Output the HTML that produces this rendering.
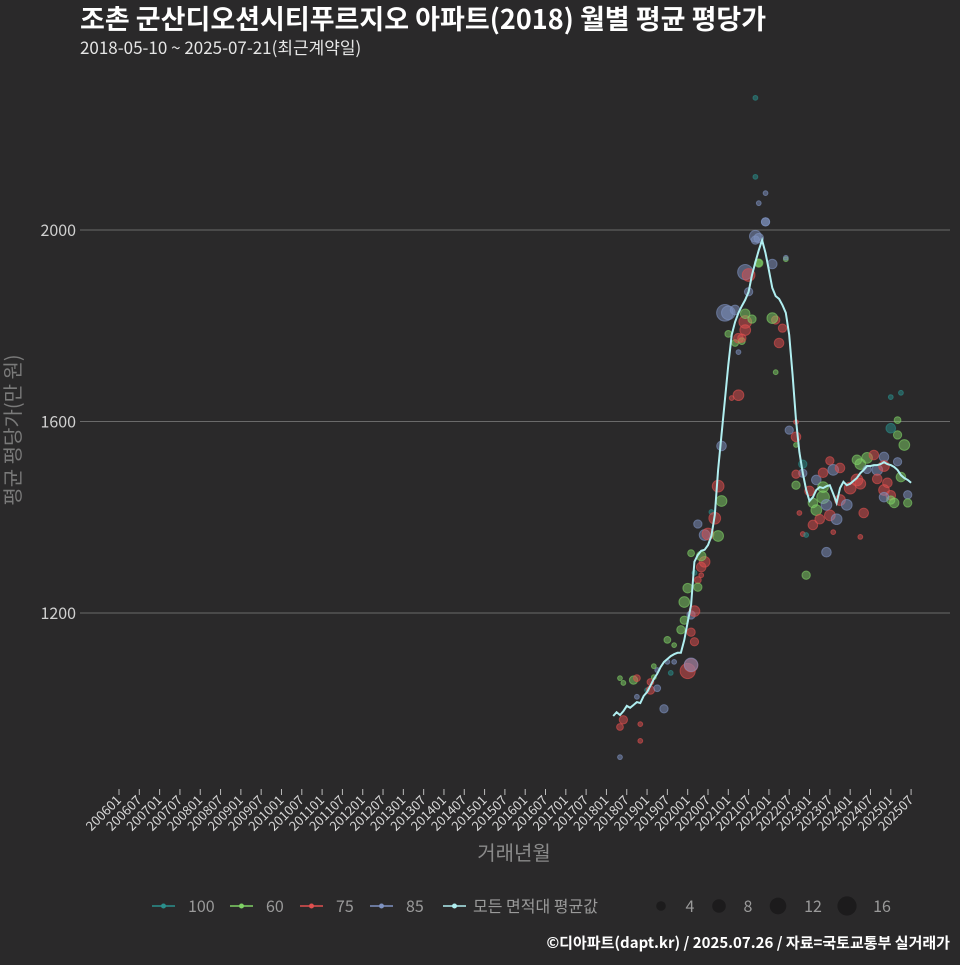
<!DOCTYPE html>
<html><head><meta charset="utf-8">
<style>
html,body{margin:0;padding:0;background:#2a292a;}
body{width:960px;height:960px;overflow:hidden;font-family:"Noto Sans CJK KR","Liberation Sans",sans-serif;}
svg text{font-family:"Noto Sans CJK KR","Liberation Sans",sans-serif;}
</style></head>
<body>
<svg id="chart" width="960" height="960" viewBox="0 0 960 960">
  <rect width="960" height="960" fill="#2a292a"/>
  <text x="80" y="29" fill="#ffffff" font-size="27" font-weight="bold">조촌 군산디오션시티푸르지오 아파트(2018) 월별 평균 평당가</text>
  <text x="80" y="54" fill="#e6e6e6" font-size="17">2018-05-10 ~ 2025-07-21(최근계약일)</text>
  <g id="grid"></g>
  <g id="yaxis"></g>
  <g id="xaxis"></g>
  <g id="points"></g>
  <g id="avgline"></g>
  <text transform="translate(20,430) rotate(-90)" text-anchor="middle" fill="#7a7a7a" font-size="20">평균 평당가(만 원)</text>
  <text x="514" y="860" text-anchor="middle" fill="#8a8a8a" font-size="20">거래년월</text>
  <g id="legend"></g>
  <text x="950" y="948" text-anchor="end" fill="#ffffff" font-size="15" font-weight="bold">©디아파트(dapt.kr) / 2025.07.26 / 자료=국토교통부 실거래가</text>
</svg>
<script>
// ---- data ----
const tickLabels = ["200601","200607","200701","200707","200801","200807","200901","200907","201001","201007","201101","201107","201201","201207","201301","201307","201401","201407","201501","201507","201601","201607","201701","201707","201801","201807","201901","201907","202001","202007","202101","202107","202201","202207","202301","202307","202401","202407","202501","202507"];
const yTicks = [1200, 1600, 2000];
const lineStart = "2018-03";
const avgValues = [985,993,987,995,1006,1002,1008,1014,1012,1027,
 1035,1048,1062,1073,1087,1098,1104,1110,1114,1117,
 1117,1144,1181,1217,1307,1321,1330,1332,1342,1361,
 1405,1499,1572,1645,1718,1781,1808,1827,1841,1854,
 1871,1906,1933,1958,1979,1952,1916,1879,1862,1856,
 1843,1827,1781,1697,1603,1536,1492,1457,1434,1442,
 1457,1463,1461,1465,1467,1449,1430,1461,1474,1467,
 1470,1476,1482,1492,1499,1507,1507,1509,1509,1511,
 1515,1511,1509,1505,1499,1488,1482,1478,1472];
const sMonths = ["2018-05","2018-06","2018-05","2018-05","2018-06","2018-09","2018-10","2018-11","2018-11","2018-10","2019-01","2019-02",
 "2019-02","2019-04","2019-06","2019-03","2019-04","2019-03","2019-08","2019-09","2019-07","2019-09","2019-07","2019-11",
 "2019-12","2020-02","2020-02","2020-01","2020-02","2019-12","2020-02","2020-01","2020-03","2020-03","2020-04","2020-03",
 "2020-04","2020-04","2020-06","2020-05","2020-02","2020-05","2020-06","2020-07","2020-05","2020-08","2020-09","2020-10",
 "2020-11","2020-10","2020-11","2021-04","2021-02","2021-03","2021-04","2021-01","2020-12","2021-03","2021-04","2021-05",
 "2021-05","2021-06","2021-06","2021-06","2021-08","2021-07","2021-01","2021-06","2021-07","2021-10","2021-10","2021-09",
 "2021-09","2021-09","2021-12","2021-12","2021-10","2021-12","2021-10","2021-09","2022-02","2022-06","2022-06","2022-03",
 "2022-02","2022-05","2022-04","2022-03","2022-09","2022-07","2022-09","2022-09","2022-11","2022-09","2022-09","2022-10",
 "2022-11","2022-12","2022-12","2022-11","2023-03","2023-01","2023-02","2023-03","2023-04","2023-02","2023-05","2023-05",
 "2023-05","2023-07","2023-06","2023-09","2023-06","2023-07","2023-08","2023-10","2023-08","2024-01","2023-12","2023-10",
 "2024-03","2024-03","2024-04","2024-05","2024-04","2024-04","2024-06","2024-08","2024-09","2024-11","2024-11","2025-01",
 "2024-11","2024-12","2025-02","2025-01","2025-04","2025-06","2025-03","2025-05","2025-03","2025-01","2025-03","2025-01",
 "2025-04","2024-11","2024-09","2024-06","2025-06"];
const sVals = [899,977,962,1064,1054,1060,1064,933,968,1025,1039,1056,
 1039,1043,1000,1066,1081,1089,1075,1133,1144,1098,1098,1165,
 1185,1160,1091,1079,1092,1223,1196,1252,1204,1140,1269,1284,
 1254,1386,1307,1296,1325,1319,1363,1365,1279,1411,1398,1361,
 1434,1465,1549,1655,1649,1764,1774,1783,1827,1833,1745,1768,
 1774,1791,1808,1825,1814,1871,1827,1912,1906,1931,1931,1987,
 1979,2111,2017,2017,1983,2077,2056,2276,1929,1939,1942,1812,
 1816,1795,1764,1703,1599,1582,1568,1551,1492,1490,1467,1409,
 1365,1279,1363,1511,1478,1455,1430,1415,1396,1384,1493,1463,
 1442,1404,1426,1396,1327,1518,1369,1436,1499,1461,1426,1503,
 1520,1478,1470,1409,1359,1511,1524,1530,1499,1526,1507,1446,
 1457,1472,1430,1436,1484,1447,1516,1551,1572,1586,1603,1651,
 1660,1442,1480,1500,1430];
const sCnts = [1,3,2,1,1,3,2,1,1,1,1,2,
 3,2,3,1,1,1,1,1,2,1,1,3,
 3,3,8,10,8,5,3,4,5,3,2,1,
 3,3,5,4,2,4,5,6,1,1,6,5,
 5,6,4,5,1,2,4,2,12,4,1,2,
 3,5,7,4,3,3,8,10,7,3,2,6,
 3,1,3,3,4,1,1,1,4,1,1,3,
 5,3,4,1,1,3,4,1,3,3,3,1,
 1,3,1,3,4,4,4,5,4,4,4,5,
 7,5,5,5,4,3,1,5,5,6,5,4,
 4,6,5,4,1,5,5,4,5,4,5,4,
 5,4,4,3,4,3,3,5,3,4,2,1,
 1,4,4,3,3];
const sTypes = ["85","75","75","60","60","60","75","75","75","85","100","75",
 "75","85","85","60","85","60","100","60","60","85","85","60",
 "60","75","75","75","85","60","85","60","75","75","75","100",
 "60","85","75","75","60","60","85","75","75","100","75","60",
 "60","75","85","75","75","60","75","60","85","85","85","60",
 "75","75","75","60","60","85","85","85","75","60","60","85",
 "85","100","85","85","85","85","85","100","85","60","85","75",
 "60","75","75","60","75","85","75","60","85","75","60","75",
 "75","60","100","100","85","75","60","60","75","75","75","60",
 "60","75","85","85","85","75","75","75","85","75","85","75",
 "60","75","75","75","75","60","60","75","85","85","75","75",
 "75","75","60","60","60","85","85","60","60","100","60","100",
 "100","85","75","85","60"];

// ---- scales ----
const X0 = 119, STEP = 20.31/6;
function monthIdx(s){ const p = s.split("-"); return (parseInt(p[0])-2006)*12 + parseInt(p[1])-1; }
function xOf(m){ return X0 + m*STEP; }
function yOf(v){ return 230 + (2000 - v)*0.4788; }
const NS = "http://www.w3.org/2000/svg";
const colors = {"100":"#2a8f8c","60":"#7fd165","75":"#e0504f","85":"#7f93c2"};

const grid = document.getElementById('grid');
const yaxis = document.getElementById('yaxis');
yTicks.forEach(v=>{
  const l = document.createElementNS(NS,'line');
  
  
  l.setAttribute('x1',80); l.setAttribute('x2',950);
  l.setAttribute('y1',yOf(v)); l.setAttribute('y2',yOf(v));
  l.setAttribute('stroke','#6a6a6a'); l.setAttribute('stroke-width','1');
  grid.appendChild(l);
  const t = document.createElementNS(NS,'text');
  
  
  t.setAttribute('x',76); t.setAttribute('y',yOf(v)+6);
  t.setAttribute('text-anchor','end'); t.setAttribute('fill','#d0d0d0'); t.setAttribute('font-size','16');
  t.textContent = v;
  yaxis.appendChild(t);
});

const xaxis = document.getElementById('xaxis');
tickLabels.forEach(lab=>{
  const m = (parseInt(lab.slice(0,4))-2006)*12 + parseInt(lab.slice(4))-1;
  const x = xOf(m);
  const l = document.createElementNS(NS,'line');
  
  
  l.setAttribute('x1',x); l.setAttribute('x2',x); l.setAttribute('y1',789); l.setAttribute('y2',795);
  l.setAttribute('stroke','#bbbbbb'); l.setAttribute('stroke-width','1');
  xaxis.appendChild(l);
  const t = document.createElementNS(NS,'text');
  
  
  t.setAttribute('transform','translate('+(x+3)+',801) rotate(-45)');
  t.setAttribute('text-anchor','end'); t.setAttribute('fill','#d8d8d8'); t.setAttribute('font-size','13');
  t.textContent = lab;
  xaxis.appendChild(t);
});

const pts = document.getElementById('points');
sMonths.forEach((mo,i)=>{
  const c = document.createElementNS(NS,'circle');
  
  
  c.setAttribute('cx',xOf(monthIdx(mo)));
  c.setAttribute('cy',yOf(sVals[i]));
  c.setAttribute('r',2.4*Math.sqrt(sCnts[i]));
  c.setAttribute('fill',colors[sTypes[i]]); c.setAttribute('fill-opacity','0.5');
  c.setAttribute('stroke',colors[sTypes[i]]); c.setAttribute('stroke-opacity','0.6');
  pts.appendChild(c);
});

const s0 = monthIdx(lineStart);
const d = avgValues.map((v,i)=>(i?'L':'M')+xOf(s0+i).toFixed(1)+','+yOf(v).toFixed(1)).join(' ');
const path = document.createElementNS(NS,'path');


path.setAttribute('d',d); path.setAttribute('fill','none');
path.setAttribute('stroke','#b0eef0'); path.setAttribute('stroke-width','2');
document.getElementById('avgline').appendChild(path);

const leg = document.getElementById('legend');
const entries = [["100","#2a8f8c"],["60","#7fd165"],["75","#e0504f"],["85","#7f93c2"],["모든 면적대 평균값","#b0eef0"]];
const ex = [152,230,300,370,443];
entries.forEach((e,i)=>{
  const g = document.createElementNS(NS,'g');
  
  
  const l = document.createElementNS(NS,'line');
  l.setAttribute('x1',ex[i]); l.setAttribute('x2',ex[i]+23); l.setAttribute('y1',906); l.setAttribute('y2',906);
  l.setAttribute('stroke',e[1]); l.setAttribute('stroke-width','1.5');
  const c = document.createElementNS(NS,'circle');
  c.setAttribute('cx',ex[i]+11.5); c.setAttribute('cy',906); c.setAttribute('r',2.5); c.setAttribute('fill',e[1]);
  const t = document.createElementNS(NS,'text');
  t.setAttribute('x',ex[i]+(i==4?30:36)); t.setAttribute('y',912); t.setAttribute('fill','#9a9a9a'); t.setAttribute('font-size','16');
  t.textContent = e[0];
  g.appendChild(l); g.appendChild(c); g.appendChild(t);
  leg.appendChild(g);
});
const sizes = [4,8,12,16];
const sx = [661,719,778,847];
sizes.forEach((s,i)=>{
  const g = document.createElementNS(NS,'g');
  
  
  const c = document.createElementNS(NS,'circle');
  c.setAttribute('cx',sx[i]); c.setAttribute('cy',906); c.setAttribute('r',2.4*Math.sqrt(s)); c.setAttribute('fill','#1c1b1c');
  const t = document.createElementNS(NS,'text');
  t.setAttribute('x',sx[i]+(i<2?29:35)); t.setAttribute('y',912); t.setAttribute('fill','#9a9a9a'); t.setAttribute('font-size','16');
  t.setAttribute('text-anchor','middle');
  t.textContent = s;
  g.appendChild(c); g.appendChild(t);
  leg.appendChild(g);
});
</script>
</body></html>
